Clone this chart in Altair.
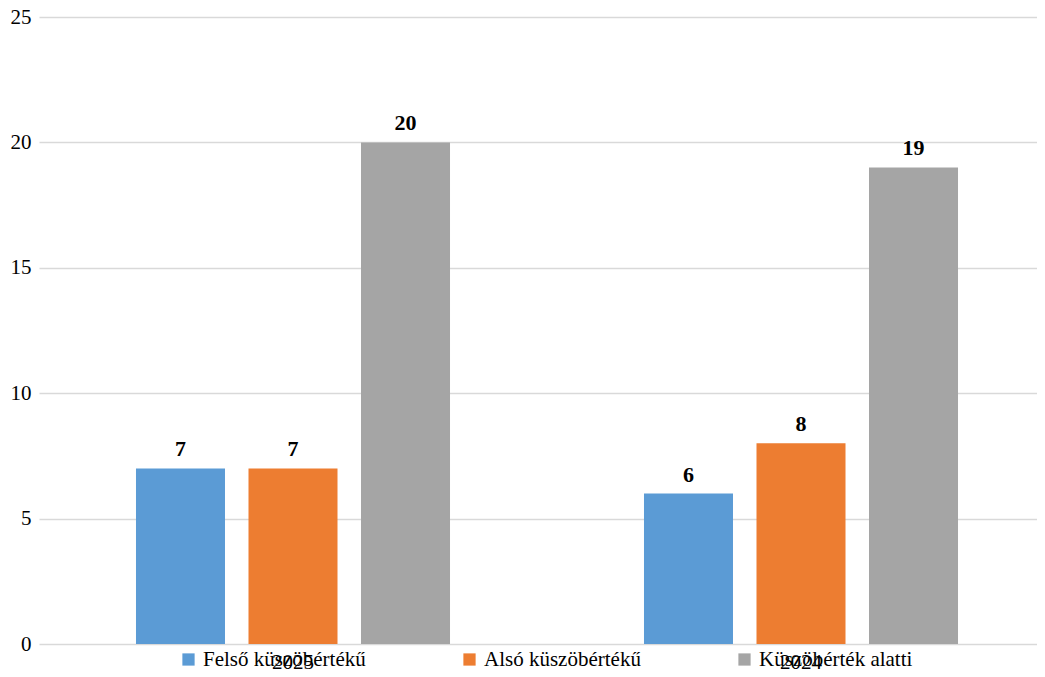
import altair as alt
import pandas as pd

years = ["2025", "2024"]
series = ["Felső küszöbértékű", "Alsó küszöbértékű", "Küszöbérték alatti"]
values_2025 = [7, 7, 20]
values_2024 = [6, 8, 19]
colors = ["#5B9BD5", "#ED7D31", "#A5A5A5"]

rows = []
for yr, vals in zip(years, [values_2025, values_2024]):
    for s, v in zip(series, vals):
        rows.append({"year": yr, "series": s, "value": v})
df = pd.DataFrame(rows)

FONT = "Liberation Serif"

x = alt.X("year:N", sort=years, title=None,
          scale=alt.Scale(paddingInner=0, paddingOuter=0),
          axis=alt.Axis(labelAngle=0, labelFont=FONT, labelFontSize=21, labelColor="#000000",
                        ticks=False, domain=False, labelPadding=24, labelBaseline="alphabetic"))
xo = alt.XOffset("series:N", sort=series,
                 scale=alt.Scale(paddingInner=0.2089, paddingOuter=0.862))
y = alt.Y("value:Q", title=None,
          scale=alt.Scale(domain=[0, 25], nice=False),
          axis=alt.Axis(values=[0, 5, 10, 15, 20, 25], labelFont=FONT, labelFontSize=21,
                        labelColor="#000000", ticks=False, domain=False, labelPadding=8,
                        gridColor="#D9D9D9", gridWidth=1.3))

bars = alt.Chart(df).mark_bar().encode(
    x=x, xOffset=xo, y=y,
    color=alt.Color("series:N", sort=series, title=None,
                    scale=alt.Scale(domain=series, range=colors),
                    legend=alt.Legend(orient="none", legendX=139, legendY=632, direction="horizontal",
                                      columns=3, columnPadding=93, symbolType="square", symbolSize=150,
                                      symbolStrokeWidth=0, labelFont=FONT, labelFontSize=21,
                                      labelColor="#000000", labelOffset=4, padding=0, gridAlign="none",
                                      labelLimit=400)),
)

labels = alt.Chart(df).mark_text(font=FONT, fontSize=22, fontWeight="bold", color="#000000",
                                 baseline="alphabetic", dy=-12).encode(
    x=x, xOffset=xo, y=y, text=alt.Text("value:Q"),
)

chart = alt.layer(bars, labels).properties(
    width=1016, height=627,
    autosize=alt.AutoSizeParams(type="none"),
    padding={"left": 31, "top": 9, "right": -18, "bottom": 25},
).configure_view(stroke=None).configure_axis(labelFont=FONT).configure_legend(labelFont=FONT)

chart.save("out.html", embed_options={"renderer": "svg", "actions": False})
